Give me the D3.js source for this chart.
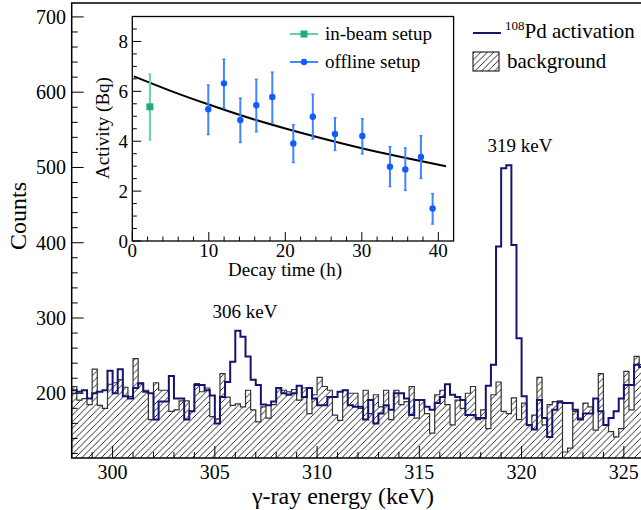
<!DOCTYPE html>
<html><head><meta charset="utf-8">
<script src="https://cdn.jsdelivr.net/npm/d3@7"></script>
<style>body{margin:0;background:#fff}svg{display:block;font-family:"Liberation Serif","Times New Roman",serif}</style>
</head><body>
<svg id="c" width="641" height="510"></svg>
<script>
// ---------- data ----------
const binStart = 298, binWidth = 0.25;
const background = [209,191,193,185,232,184,180,212,214,218,208,196,246,214,204,165,214,204,204,176,
 178,190,190,176,213,202,207,169,166,226,195,184,186,182,204,178,162,182,167,185,
 207,204,202,205,191,207,173,198,221,209,204,171,164,204,200,200,180,204,173,198,
 182,204,165,204,185,189,209,167,191,173,147,198,204,185,158,191,180,200,209,165,
 178,153,198,215,176,173,194,165,187,158,171,221,158,185,189,190,122,127,176,167,
 187,182,151,226,158,149,142,153,229,178,249,238];
const activation = [204,202,204,193,200,202,204,230,200,232,196,193,207,213,202,200,165,189,189,223,
 193,193,165,176,211,211,204,197,160,195,215,242,283,275,249,218,211,185,184,189,
 207,200,198,200,210,195,207,193,184,184,195,195,202,204,184,182,182,165,191,160,
 173,184,178,200,200,193,171,191,191,182,178,187,195,212,198,195,191,171,171,167,
 167,210,238,395,499,503,397,273,196,158,152,191,167,142,178,188,187,187,178,165,
 173,173,193,176,158,167,176,193,211,211,238,235];
const xTickValues = [300,305,310,315,320,325];
const yTickValues = [200,300,400,500,600,700];
const peakLabels = ["306 keV","319 keV"];
const peakLabelE = [306.47, 319.92];
const peakLabelC = [300, 520];

const inBeamTime = [2.3], inBeamAct = [5.38], inBeamLo = [4.05], inBeamHi = [6.69];
const offTime = [9.93,11.98,14.12,16.21,18.3,21.05,23.6,26.5,30.07,33.68,35.69,37.73,39.26];
const offAct  = [5.28,6.32,4.85,5.44,5.77,3.91,4.98,4.29,4.21,2.98,2.87,3.37,1.30];
const offLo   = [4.27,5.34,3.95,4.38,4.74,3.15,4.09,3.63,3.49,2.18,2.03,2.51,0.68];
const offHi   = [6.25,7.29,5.73,6.48,6.77,4.66,5.88,4.94,4.90,3.78,3.73,4.22,1.90];
const fitTime = [0.2,5,10,15,20,25,30,35,41];
const fitAct  = [6.60,6.02,5.47,4.96,4.51,4.10,3.72,3.38,3.00];
const insetXTicks = [0,10,20,30,40], insetYTicks = [0,2,4,6,8];

// ---------- drawing ----------
const svg = d3.select("#c");
const defs = svg.append("defs");
const pat = defs.append("pattern").attr("id","hatch").attr("patternUnits","userSpaceOnUse")
  .attr("width",6.5).attr("height",6.5);
pat.append("path").attr("d","M-1,1 L1,-1 M0,6.5 L6.5,0 M5.5,7.5 L7.5,5.5")
  .attr("stroke","#111").attr("stroke-width",0.9);

const X0 = 71.7, X1 = 644.3, Y0 = 458, Y1 = 3;
const x = d3.scaleLinear().domain([298,326]).range([X0,X1]);
const y = d3.scaleLinear().domain([114,718.5]).range([Y0,Y1]);
defs.append("clipPath").attr("id","plotclip").append("rect")
  .attr("x",X0).attr("y",Y1).attr("width",X1-X0).attr("height",Y0-Y1);

function stepLine(vals){
  let p = d3.path();
  vals.forEach((v,i)=>{
    const xl = x(binStart+i*binWidth), xr = x(binStart+(i+1)*binWidth);
    if(i===0) p.moveTo(xl,y(v)); else p.lineTo(xl,y(v));
    p.lineTo(xr,y(v));
  });
  return p.toString();
}
function stepArea(vals){
  const n = vals.length;
  return "M"+x(binStart)+","+Y0+" L"+stepLine(vals).slice(1)+" L"+x(binStart+n*binWidth)+","+Y0+" Z";
}
const g = svg.append("g").attr("clip-path","url(#plotclip)");
g.append("path").attr("d",stepArea(background)).attr("fill","url(#hatch)").attr("stroke","none");
g.append("path").attr("d","M"+x(binStart)+","+Y0+" L"+stepLine(background).slice(1)+" L"+x(binStart+background.length*binWidth)+","+Y0)
  .attr("fill","none").attr("stroke","#333").attr("stroke-width",1.2);
g.append("path").attr("d",stepLine(activation)).attr("fill","none").attr("stroke","#151570").attr("stroke-width",2);

// frame + ticks
svg.append("rect").attr("x",X0).attr("y",Y1).attr("width",X1-X0).attr("height",Y0-Y1)
  .attr("fill","none").attr("stroke","#000").attr("stroke-width",1.5);
const ax = svg.append("g").attr("stroke","#000").attr("stroke-width",1);
d3.range(299,326,1).forEach(v=>{
  const major = xTickValues.includes(v);
  ax.append("line").attr("x1",x(v)).attr("x2",x(v)).attr("y1",Y0).attr("y2",Y0-(major?12:6));
});
d3.range(120,719,20).forEach(v=>{
  const major = yTickValues.includes(v);
  ax.append("line").attr("y1",y(v)).attr("y2",y(v)).attr("x1",X0).attr("x2",X0+(major?12:6));
});
svg.append("g").selectAll("text").data(xTickValues).join("text")
  .attr("x",d=>x(d)).attr("y",479).attr("text-anchor","middle").attr("font-size",20).text(d=>d);
svg.append("g").selectAll("text").data(yTickValues).join("text")
  .attr("x",66).attr("y",d=>y(d)+7).attr("text-anchor","end").attr("font-size",20).text(d=>d);
svg.append("text").attr("x",343).attr("y",504).attr("text-anchor","middle").attr("font-size",24).text("γ-ray energy (keV)");
svg.append("text").attr("transform","translate(26,216) rotate(-90)").attr("text-anchor","middle").attr("font-size",24).text("Counts");

// peak labels
svg.append("g").selectAll("text").data(peakLabels).join("text")
  .attr("x",(d,i)=>x(peakLabelE[i])).attr("y",(d,i)=>y(peakLabelC[i]))
  .attr("text-anchor","middle").attr("font-size",19).text(d=>d);

// main legend
svg.append("line").attr("x1",473).attr("x2",501).attr("y1",33).attr("y2",33).attr("stroke","#151570").attr("stroke-width",2);
const lt = svg.append("text").attr("x",505).attr("y",38).attr("font-size",21);
lt.append("tspan").attr("font-size",13).attr("dy",-8).text("108");
lt.append("tspan").attr("dy",8).text("Pd activation");
svg.append("rect").attr("x",473).attr("y",52).attr("width",26).attr("height",19)
  .attr("fill","url(#hatch)").attr("stroke","#000").attr("stroke-width",1);
svg.append("text").attr("x",507).attr("y",68).attr("font-size",21).text("background");

// ---------- inset ----------
const IX0 = 132.3, IX1 = 453.6, IY0 = 241, IY1 = 16.5;
const ix = d3.scaleLinear().domain([0,42]).range([IX0,IX1]);
const iy = d3.scaleLinear().domain([0,9]).range([IY0,IY1]);
svg.append("rect").attr("x",IX0).attr("y",IY1).attr("width",IX1-IX0).attr("height",IY0-IY1)
  .attr("fill","#fff").attr("stroke","#000").attr("stroke-width",1.3);
const iax = svg.append("g").attr("stroke","#000").attr("stroke-width",1);
d3.range(0,42,2).forEach(v=>{
  const major = insetXTicks.includes(v);
  iax.append("line").attr("x1",ix(v)).attr("x2",ix(v)).attr("y1",IY0).attr("y2",IY0-(major?9:4.5));
});
d3.range(0,9,0.5).forEach(v=>{
  const major = insetYTicks.includes(v);
  iax.append("line").attr("y1",iy(v)).attr("y2",iy(v)).attr("x1",IX0).attr("x2",IX0+(major?9:4.5));
});
svg.append("g").selectAll("text").data(insetXTicks).join("text")
  .attr("x",d=>ix(d)).attr("y",257).attr("text-anchor","middle").attr("font-size",19).text(d=>d);
svg.append("g").selectAll("text").data(insetYTicks).join("text")
  .attr("x",128).attr("y",d=>iy(d)+7).attr("text-anchor","end").attr("font-size",19).text(d=>d);
svg.append("text").attr("x",285).attr("y",276).attr("text-anchor","middle").attr("font-size",19).text("Decay time (h)");
svg.append("text").attr("transform","translate(109,128) rotate(-90)").attr("text-anchor","middle").attr("font-size",19).text("Activity (Bq)");

// fit curve
const ig = svg.append("g");
ig.append("path").datum(fitTime.map((t,i)=>[t,fitAct[i]]))
  .attr("d",d3.line().x(d=>ix(d[0])).y(d=>iy(d[1])).curve(d3.curveMonotoneX))
  .attr("fill","none").attr("stroke","#000").attr("stroke-width",2);
// error bars
function errBars(times,lo,hi,col){
  times.forEach((t,i)=>{
    ig.append("line").attr("x1",ix(t)).attr("x2",ix(t)).attr("y1",iy(lo[i])).attr("y2",iy(hi[i])).attr("stroke",col).attr("stroke-width",2);
    [lo[i],hi[i]].forEach(v=>ig.append("line").attr("x1",ix(t)-1.5).attr("x2",ix(t)+1.5).attr("y1",iy(v)).attr("y2",iy(v)).attr("stroke",col).attr("stroke-width",1.5));
  });
}
errBars(inBeamTime,inBeamLo,inBeamHi,"#66d1a8");
errBars(offTime,offLo,offHi,"#3f86ff");
ig.selectAll("rect.ib").data(inBeamTime).join("rect").attr("class","ib")
  .attr("x",(d)=>ix(d)-3.5).attr("y",(d,i)=>iy(inBeamAct[i])-3.5).attr("width",7).attr("height",7).attr("fill","#1fae7a");
ig.selectAll("circle.off").data(offTime).join("circle").attr("class","off")
  .attr("cx",d=>ix(d)).attr("cy",(d,i)=>iy(offAct[i])).attr("r",3.2).attr("fill","#0f5cff");

// inset legend
svg.append("line").attr("x1",290).attr("x2",318).attr("y1",34).attr("y2",34).attr("stroke","#66d1a8").attr("stroke-width",2);
svg.append("rect").attr("x",300.5).attr("y",30.5).attr("width",7).attr("height",7).attr("fill","#1fae7a");
svg.append("text").attr("x",325).attr("y",40).attr("font-size",19).text("in-beam setup");
svg.append("line").attr("x1",290).attr("x2",318).attr("y1",62).attr("y2",62).attr("stroke","#3f86ff").attr("stroke-width",2);
svg.append("circle").attr("cx",304).attr("cy",62).attr("r",3.2).attr("fill","#0f5cff");
svg.append("text").attr("x",325).attr("y",68).attr("font-size",19).text("offline setup");
</script>
</body></html>
